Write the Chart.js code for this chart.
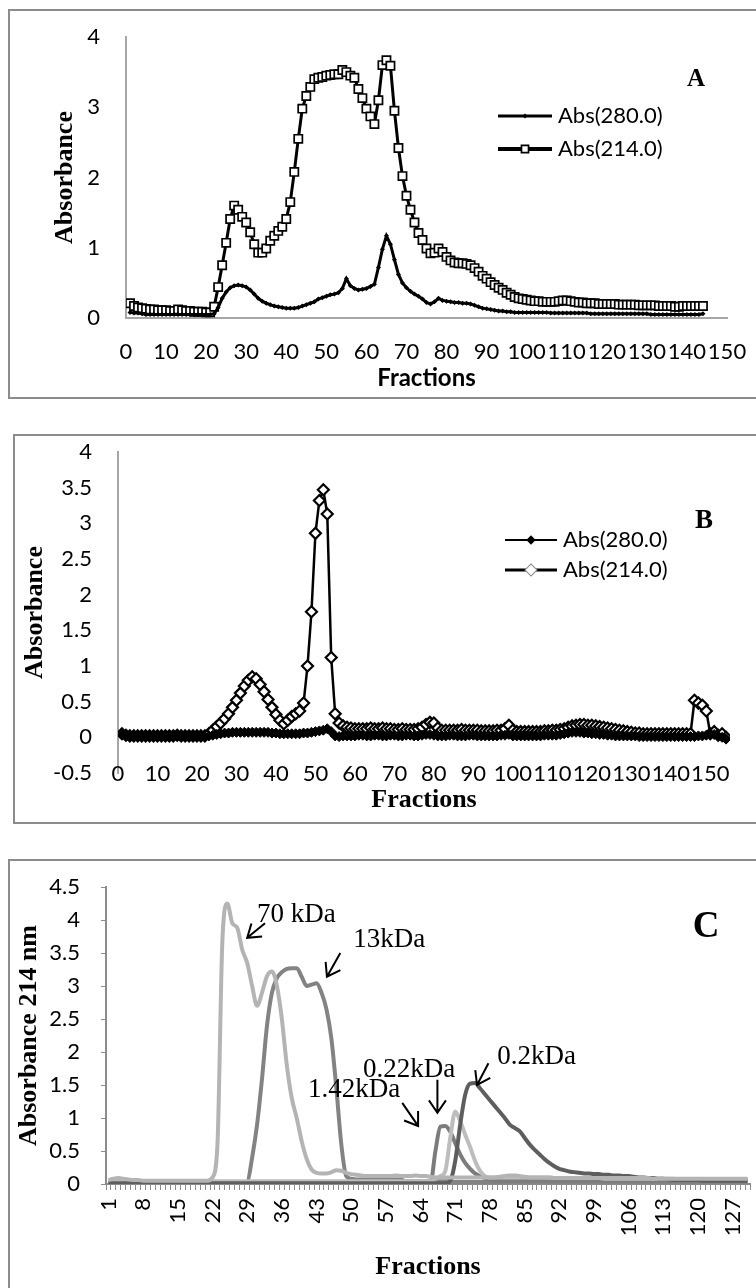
<!DOCTYPE html>
<html>
<head>
<meta charset="utf-8">
<script src="https://cdn.jsdelivr.net/npm/chart.js@4.4.1/dist/chart.umd.min.js"></script>
<style>
  html, body { margin: 0; padding: 0; background: #fff; overflow: hidden; }
  body { width: 756px; height: 1288px; position: relative; }
  .box { position: absolute; border: 2px solid #8c8c8c; box-sizing: border-box; }
  canvas { position: absolute; left: 0; }
</style>
</head>
<body>
<div class="box" style="left:8px; top:9px; width:800px; height:390px"></div>
<div class="box" style="left:13px; top:434px; width:800px; height:390px"></div>
<div class="box" style="left:8px; top:859px; width:800px; height:500px"></div>
<canvas id="chartA" width="756" height="400" style="top:0"></canvas>
<canvas id="chartB" width="756" height="410" style="top:415px"></canvas>
<canvas id="chartC" width="756" height="458" style="top:830px"></canvas>
<script>
// ---- Panel A (fractions 1..144) ----
const abs280A = [
  0.08, 0.07, 0.07, 0.06, 0.05, 0.05, 0.05, 0.05, 0.05, 0.05,
  0.05, 0.05, 0.05, 0.05, 0.05, 0.05, 0.05, 0.05, 0.05, 0.05,
  0.05, 0.06, 0.15, 0.28, 0.37, 0.43, 0.46, 0.47, 0.46, 0.44,
  0.4, 0.34, 0.28, 0.24, 0.21, 0.19, 0.17, 0.16, 0.15, 0.14,
  0.14, 0.14, 0.15, 0.17, 0.19, 0.21, 0.23, 0.27, 0.29, 0.31,
  0.33, 0.34, 0.36, 0.42, 0.56, 0.46, 0.42, 0.4, 0.41, 0.42,
  0.45, 0.48, 0.72, 0.98, 1.17, 1.05, 0.83, 0.62, 0.5, 0.43,
  0.38, 0.34, 0.31, 0.27, 0.22, 0.2, 0.23, 0.28, 0.25, 0.24,
  0.23, 0.22, 0.22, 0.21, 0.21, 0.2, 0.18, 0.16, 0.14, 0.13,
  0.12, 0.11, 0.1, 0.1, 0.09, 0.09, 0.08, 0.08, 0.08, 0.08,
  0.08, 0.08, 0.08, 0.08, 0.08, 0.07, 0.07, 0.07, 0.07, 0.07,
  0.07, 0.07, 0.07, 0.07, 0.07, 0.06, 0.06, 0.06, 0.06, 0.06,
  0.06, 0.06, 0.06, 0.06, 0.06, 0.06, 0.06, 0.06, 0.06, 0.06,
  0.05, 0.05, 0.05, 0.05, 0.05, 0.05, 0.05, 0.05, 0.05, 0.05,
  0.05, 0.05, 0.05, 0.06
];
const abs214A = [
  0.21, 0.17, 0.15, 0.14, 0.13, 0.12, 0.12, 0.11, 0.11, 0.11,
  0.1, 0.1, 0.12, 0.11, 0.1, 0.1, 0.09, 0.09, 0.09, 0.08,
  0.08, 0.16, 0.44, 0.75, 1.07, 1.41, 1.6, 1.54, 1.44, 1.36,
  1.22, 1.05, 0.93, 0.93, 0.99, 1.1, 1.17, 1.24, 1.3, 1.41,
  1.65, 2.08, 2.55, 2.98, 3.16, 3.29, 3.4, 3.42, 3.43, 3.45,
  3.46, 3.47, 3.47, 3.53, 3.5, 3.45, 3.42, 3.26, 3.13, 2.98,
  2.87, 2.76, 3.1, 3.6, 3.67, 3.59, 2.95, 2.42, 2.02, 1.74,
  1.54, 1.36, 1.21, 1.11, 0.99, 0.92, 0.93, 0.99, 0.94, 0.87,
  0.82, 0.79, 0.78, 0.78, 0.77, 0.75, 0.71, 0.66, 0.6, 0.56,
  0.51, 0.47, 0.43, 0.4, 0.36, 0.33, 0.3, 0.28, 0.27, 0.26,
  0.25, 0.24, 0.24, 0.23, 0.23, 0.23, 0.23, 0.24, 0.25, 0.25,
  0.24, 0.23, 0.22, 0.22, 0.21, 0.21, 0.21, 0.2, 0.2, 0.2,
  0.2, 0.2, 0.19, 0.19, 0.19, 0.19, 0.19, 0.18, 0.18, 0.18,
  0.18, 0.18, 0.17, 0.17, 0.17, 0.17, 0.16, 0.16, 0.17, 0.17,
  0.17, 0.17, 0.17, 0.17
];
const xTicksA = [0, 10, 20, 30, 40, 50, 60, 70, 80, 90, 100, 110, 120, 130, 140, 150];
const yTicksA = [0, 1, 2, 3, 4];

// ---- Panel B (fractions 1..154) ----
const abs280B = [
  0.04, 0.02, 0.01, 0.01, 0.01, 0.01, 0.01, 0.01, 0.01, 0.01,
  0.01, 0.01, 0.01, 0.01, 0.02, 0.01, 0.01, 0.01, 0.01, 0.01,
  0.01, 0.01, 0.02, 0.03, 0.04, 0.05, 0.06, 0.06, 0.07, 0.07,
  0.07, 0.07, 0.07, 0.07, 0.07, 0.07, 0.07, 0.07, 0.06, 0.06,
  0.05, 0.05, 0.05, 0.05, 0.05, 0.05, 0.06, 0.06, 0.07, 0.08,
  0.09, 0.1, 0.12, 0.08, 0.02, 0.01, 0.02, 0.02, 0.02, 0.02,
  0.03, 0.03, 0.02, 0.02, 0.03, 0.03, 0.02, 0.02, 0.03, 0.03,
  0.02, 0.02, 0.03, 0.03, 0.02, 0.02, 0.03, 0.04, 0.04, 0.03,
  0.02, 0.02, 0.02, 0.03, 0.03, 0.02, 0.02, 0.02, 0.03, 0.03,
  0.02, 0.02, 0.02, 0.02, 0.02, 0.02, 0.03, 0.03, 0.04, 0.02,
  0.02, 0.02, 0.02, 0.02, 0.02, 0.02, 0.02, 0.03, 0.03, 0.03,
  0.03, 0.04, 0.05, 0.06, 0.07, 0.07, 0.07, 0.06, 0.06, 0.05,
  0.05, 0.04, 0.04, 0.03, 0.03, 0.02, 0.02, 0.02, 0.02, 0.02,
  0.02, 0.01, 0.01, 0.01, 0.01, 0.01, 0.01, 0.01, 0.01, 0.01,
  0.01, 0.01, 0.01, 0.01, 0.01, 0.01, 0.02, 0.02, 0.03, 0.05,
  0.04, 0.02, 0.0, -0.02
];
const abs214B = [
  0.05, 0.03, 0.02, 0.02, 0.02, 0.02, 0.02, 0.02, 0.02, 0.02,
  0.02, 0.02, 0.02, 0.02, 0.03, 0.02, 0.02, 0.02, 0.02, 0.02,
  0.02, 0.02, 0.05, 0.1, 0.15, 0.2, 0.26, 0.33, 0.42, 0.52,
  0.62, 0.72, 0.8, 0.85, 0.82, 0.74, 0.64, 0.53, 0.42, 0.32,
  0.24, 0.19, 0.24, 0.29, 0.33, 0.37, 0.48, 1.0, 1.76, 2.86,
  3.32, 3.47, 3.13, 1.12, 0.33, 0.2, 0.16, 0.14, 0.13, 0.12,
  0.12, 0.12, 0.12, 0.13, 0.12, 0.12, 0.13, 0.12, 0.12, 0.11,
  0.11, 0.12, 0.11, 0.11, 0.11, 0.12, 0.14, 0.18, 0.21, 0.2,
  0.13, 0.1, 0.1, 0.1, 0.1, 0.1, 0.11, 0.1, 0.1, 0.1,
  0.1, 0.09, 0.09, 0.09, 0.09, 0.1, 0.1, 0.12, 0.17, 0.1,
  0.08, 0.08, 0.08, 0.08, 0.08, 0.08, 0.08, 0.09, 0.09, 0.1,
  0.1, 0.11, 0.12, 0.14, 0.16, 0.17, 0.18, 0.18, 0.17, 0.17,
  0.16, 0.15, 0.14, 0.13, 0.12, 0.11, 0.1, 0.09, 0.08, 0.07,
  0.06, 0.06, 0.05, 0.05, 0.05, 0.05, 0.05, 0.05, 0.05, 0.05,
  0.05, 0.05, 0.05, 0.05, 0.05, 0.52, 0.48, 0.45, 0.37, 0.05,
  0.08, 0.03, 0.05, 0.0
];
const xTicksB = [0, 10, 20, 30, 40, 50, 60, 70, 80, 90, 100, 110, 120, 130, 140, 150];
const yTicksB = [-0.5, 0, 0.5, 1, 1.5, 2, 2.5, 3, 3.5, 4];

// ---- Panel C (fractions 1..130) ----
const kda70 = [
  0.06, 0.08, 0.09, 0.08, 0.07, 0.06, 0.06, 0.05, 0.05, 0.05,
  0.05, 0.05, 0.05, 0.05, 0.05, 0.05, 0.05, 0.05, 0.05, 0.05,
  0.05, 0.1, 0.6, 3.7, 4.25, 3.95, 3.88, 3.55, 3.35, 3.0,
  2.7, 2.9, 3.15, 3.22, 3.0, 2.5, 1.8, 1.3, 1.0, 0.65,
  0.38, 0.22, 0.17, 0.16, 0.16, 0.18, 0.21, 0.2, 0.17, 0.15,
  0.14, 0.13, 0.12, 0.12, 0.12, 0.12, 0.12, 0.12, 0.13, 0.12,
  0.12, 0.12, 0.13, 0.12, 0.12, 0.11, 0.1, 0.1, 0.1, 0.1,
  0.1, 0.1, 0.1, 0.1, 0.1, 0.1, 0.1, 0.1, 0.1, 0.11,
  0.12, 0.13, 0.13, 0.12, 0.11, 0.1, 0.1, 0.1, 0.1, 0.1,
  0.09, 0.09, 0.09, 0.09, 0.09, 0.09, 0.09, 0.09, 0.09, 0.09,
  0.09, 0.09, 0.09, 0.09, 0.09, 0.09, 0.09, 0.09, 0.09, 0.09,
  0.08, 0.08, 0.08, 0.08, 0.08, 0.08, 0.08, 0.08, 0.08, 0.08,
  0.08, 0.08, 0.08, 0.08, 0.08, 0.08, 0.08, 0.08, 0.08, 0.08
];
const kda13 = [
  0.02, 0.02, 0.02, 0.02, 0.02, 0.02, 0.02, 0.02, 0.02, 0.02,
  0.02, 0.02, 0.02, 0.02, 0.02, 0.02, 0.02, 0.02, 0.02, 0.02,
  0.02, 0.02, 0.02, 0.02, 0.02, 0.02, 0.02, 0.02, 0.03, 0.4,
  0.9, 1.6, 2.4, 2.9, 3.12, 3.21, 3.26, 3.27, 3.27, 3.14,
  3.0, 3.02, 3.04, 2.9, 2.65, 2.2, 1.45, 0.6, 0.12, 0.08,
  0.07, 0.07, 0.07, 0.07, 0.07, 0.07, 0.07, 0.07, 0.07, 0.07,
  0.04, 0.04, 0.04, 0.04, 0.04, 0.04, 0.04, 0.04, 0.04, 0.04,
  0.03, 0.03, 0.03, 0.03, 0.03, 0.03, 0.03, 0.03, 0.03, 0.03,
  0.03, 0.03, 0.03, 0.03, 0.03, 0.03, 0.03, 0.03, 0.03, 0.03,
  0.03, 0.03, 0.03, 0.03, 0.03, 0.03, 0.03, 0.03, 0.03, 0.03,
  0.03, 0.03, 0.03, 0.03, 0.03, 0.03, 0.03, 0.03, 0.03, 0.03,
  0.03, 0.03, 0.03, 0.03, 0.03, 0.03, 0.03, 0.03, 0.03, 0.03,
  0.03, 0.03, 0.03, 0.03, 0.03, 0.03, 0.03, 0.03, 0.03, 0.03
];
const kda142 = [
  0.04, 0.04, 0.04, 0.04, 0.04, 0.04, 0.04, 0.04, 0.04, 0.04,
  0.04, 0.04, 0.04, 0.04, 0.04, 0.04, 0.04, 0.04, 0.04, 0.04,
  0.04, 0.04, 0.04, 0.04, 0.04, 0.04, 0.04, 0.04, 0.04, 0.04,
  0.04, 0.04, 0.04, 0.04, 0.04, 0.04, 0.04, 0.04, 0.04, 0.04,
  0.04, 0.04, 0.04, 0.04, 0.04, 0.04, 0.04, 0.04, 0.04, 0.04,
  0.04, 0.04, 0.04, 0.04, 0.04, 0.04, 0.04, 0.04, 0.04, 0.04,
  0.04, 0.04, 0.04, 0.04, 0.04, 0.04, 0.08, 0.12, 0.2, 0.7,
  1.1, 0.95, 0.75, 0.56, 0.35, 0.2, 0.12, 0.1, 0.1, 0.1,
  0.1, 0.1, 0.1, 0.1, 0.1, 0.1, 0.1, 0.1, 0.1, 0.1,
  0.09, 0.09, 0.09, 0.09, 0.09, 0.09, 0.09, 0.09, 0.09, 0.09,
  0.08, 0.08, 0.08, 0.08, 0.08, 0.08, 0.08, 0.08, 0.08, 0.08,
  0.08, 0.08, 0.08, 0.08, 0.08, 0.07, 0.07, 0.07, 0.07, 0.07,
  0.07, 0.07, 0.07, 0.07, 0.07, 0.07, 0.07, 0.07, 0.07, 0.07
];
const kda022 = [
  0.02, 0.02, 0.02, 0.02, 0.02, 0.02, 0.02, 0.02, 0.02, 0.02,
  0.02, 0.02, 0.02, 0.02, 0.02, 0.02, 0.02, 0.02, 0.02, 0.02,
  0.02, 0.02, 0.02, 0.02, 0.02, 0.02, 0.02, 0.02, 0.02, 0.02,
  0.02, 0.02, 0.02, 0.02, 0.02, 0.02, 0.02, 0.02, 0.02, 0.02,
  0.02, 0.02, 0.02, 0.02, 0.02, 0.02, 0.02, 0.02, 0.02, 0.02,
  0.02, 0.02, 0.02, 0.02, 0.02, 0.02, 0.02, 0.02, 0.02, 0.02,
  0.02, 0.02, 0.02, 0.02, 0.02, 0.02, 0.5, 0.87, 0.88, 0.79,
  0.62, 0.45, 0.32, 0.23, 0.16, 0.12, 0.09, 0.07, 0.05, 0.05,
  0.05, 0.05, 0.05, 0.05, 0.05, 0.05, 0.05, 0.05, 0.05, 0.05,
  0.05, 0.05, 0.05, 0.05, 0.05, 0.05, 0.05, 0.05, 0.05, 0.05,
  0.05, 0.05, 0.05, 0.05, 0.05, 0.05, 0.05, 0.05, 0.05, 0.05,
  0.05, 0.05, 0.05, 0.05, 0.05, 0.05, 0.05, 0.05, 0.05, 0.05,
  0.05, 0.05, 0.05, 0.05, 0.05, 0.05, 0.05, 0.05, 0.05, 0.05
];
const kda02 = [
  0.01, 0.01, 0.01, 0.01, 0.01, 0.01, 0.01, 0.01, 0.01, 0.01,
  0.01, 0.01, 0.01, 0.01, 0.01, 0.01, 0.01, 0.01, 0.01, 0.01,
  0.01, 0.01, 0.01, 0.01, 0.01, 0.01, 0.01, 0.01, 0.01, 0.01,
  0.01, 0.01, 0.01, 0.01, 0.01, 0.01, 0.01, 0.01, 0.01, 0.01,
  0.01, 0.01, 0.01, 0.01, 0.01, 0.01, 0.01, 0.01, 0.01, 0.01,
  0.01, 0.01, 0.01, 0.01, 0.01, 0.01, 0.01, 0.01, 0.01, 0.01,
  0.01, 0.01, 0.01, 0.01, 0.01, 0.01, 0.01, 0.01, 0.01, 0.05,
  0.35, 0.9, 1.35, 1.52, 1.53, 1.45, 1.36, 1.27, 1.18, 1.09,
  1.0, 0.9, 0.85, 0.8, 0.7, 0.6, 0.52, 0.45, 0.38, 0.32,
  0.27, 0.23, 0.21, 0.19, 0.18, 0.17, 0.16, 0.16, 0.15, 0.15,
  0.14, 0.14, 0.13, 0.13, 0.12, 0.12, 0.11, 0.1, 0.1, 0.09,
  0.09, 0.08, 0.08, 0.07, 0.06, 0.06, 0.06, 0.06, 0.06, 0.06,
  0.05, 0.05, 0.05, 0.05, 0.05, 0.05, 0.05, 0.05, 0.05, 0.05
];
const fractionsC = kda70.map((_, i) => i + 1);
const shownC = [1, 8, 15, 22, 29, 36, 43, 50, 57, 64, 71, 78, 85, 92, 99, 106, 113, 120, 127];
const yTicksC = [0, 0.5, 1, 1.5, 2, 2.5, 3, 3.5, 4, 4.5];

Chart.defaults.font.family = 'Lato';
Chart.defaults.font.size = 22;
Chart.defaults.color = '#000';

const serifBold = (size) => ({ family: 'Liberation Serif', weight: 'bold', size: size });

// fixed axis box so the plot area lands where the reference has it
function fixBox(size) {
  return function (s) {
    if (s.isHorizontal()) s.height = size; else s.width = size;
    s.paddingLeft = 0; s.paddingRight = 0; s.paddingTop = 0; s.paddingBottom = 0;
  };
}
const useTicks = (list) => (axis) => { axis.ticks = list.map(v => ({ value: v })); };
const xy = (arr) => arr.map((v, i) => ({ x: i + 1, y: v }));

function drawMarker(ctx, style, x, y, r, fill, stroke, lw) {
  ctx.save();
  ctx.translate(x, y);
  if (style === 'rectRot') ctx.rotate(Math.PI / 4);
  const s = r * Math.SQRT1_2;
  ctx.beginPath();
  ctx.rect(-s, -s, 2 * s, 2 * s);
  ctx.fillStyle = fill;
  ctx.fill();
  if (lw) { ctx.lineWidth = lw; ctx.strokeStyle = stroke; ctx.stroke(); }
  ctx.restore();
}

function arrow(ctx, x0, y0, x1, y1) {
  const a = Math.atan2(y1 - y0, x1 - x0), h = 15, w = 0.6;
  ctx.beginPath();
  ctx.moveTo(x0, y0); ctx.lineTo(x1, y1);
  ctx.moveTo(x1 - h * Math.cos(a - w), y1 - h * Math.sin(a - w));
  ctx.lineTo(x1, y1);
  ctx.lineTo(x1 - h * Math.cos(a + w), y1 - h * Math.sin(a + w));
  ctx.stroke();
}

const panelDecor = {
  id: 'panelDecor',
  afterDraw(chart, args, o) {
    const ctx = chart.ctx;
    ctx.save();
    ctx.fillStyle = '#000';
    if (o.letter) {
      ctx.font = 'bold ' + o.letter.size + 'px "Liberation Serif"';
      ctx.textAlign = 'center';
      ctx.textBaseline = 'middle';
      ctx.fillText(o.letter.text, o.letter.x, o.letter.y);
    }
    // x tick labels that sit level with the lowest y tick (panel B)
    if (o.xLabels) {
      const xs = chart.scales.x;
      ctx.font = '22px Lato';
      ctx.textAlign = 'center';
      ctx.textBaseline = 'middle';
      o.xLabels.values.forEach(v => {
        ctx.fillText(String(v), xs.getPixelForValue(v), chart.chartArea.bottom + o.xLabels.dy);
      });
    }
    (o.legend || []).forEach(item => {
      const ds = chart.data.datasets[item.dataset];
      ctx.strokeStyle = ds.borderColor;
      ctx.lineWidth = item.lineWidth || ds.borderWidth;
      ctx.beginPath();
      ctx.moveTo(item.x0, item.y);
      ctx.lineTo(item.x1, item.y);
      ctx.stroke();
      drawMarker(ctx, ds.pointStyle, (item.x0 + item.x1) / 2, item.y, item.r || ds.pointRadius,
        ds.pointBackgroundColor, item.markerBorder || ds.pointBorderColor, item.markerWidth || ds.pointBorderWidth);
      ctx.font = '22px Lato';
      ctx.fillStyle = '#000';
      ctx.textAlign = 'left';
      ctx.textBaseline = 'middle';
      ctx.fillText(ds.label, item.x1 + 6, item.y);
    });
    if (o.notes) {
      const xs = chart.scales.x, ys = chart.scales.y;
      const px = c => xs.getPixelForValue(c - 1);
      ctx.font = '27px "Liberation Serif"';
      ctx.textAlign = 'left';
      ctx.textBaseline = 'alphabetic';
      ctx.strokeStyle = '#000';
      ctx.lineWidth = 2;
      o.notes.forEach(n => {
        ctx.fillText(n.text, px(n.at[0]), ys.getPixelForValue(n.at[1]));
        arrow(ctx, px(n.tail[0]), ys.getPixelForValue(n.tail[1]), px(n.tip[0]), ys.getPixelForValue(n.tip[1]));
      });
    }
    ctx.restore();
  }
};

const base = {
  responsive: false,
  animation: false,
  devicePixelRatio: 1,
  events: [],
};

// ---------- A ----------
new Chart(document.getElementById('chartA'), {
  type: 'line',
  data: {
    datasets: [
      { label: 'Abs(280.0)', data: xy(abs280A), borderColor: '#000', borderWidth: 3,
        pointStyle: 'rectRot', pointRadius: 2.5, pointBackgroundColor: '#000',
        pointBorderColor: '#000', pointBorderWidth: 0, tension: 0 },
      { label: 'Abs(214.0)', data: xy(abs214A), borderColor: '#000', borderWidth: 3,
        pointStyle: 'rect', pointRadius: 5.8, pointBackgroundColor: '#fff',
        pointBorderColor: '#000', pointBorderWidth: 1.7, tension: 0 }
    ]
  },
  options: Object.assign({}, base, {
    layout: { padding: { top: 37, right: 29, bottom: 7, left: 0 } },
    scales: {
      x: {
        type: 'linear', min: 0, max: 150,
        afterBuildTicks: useTicks(xTicksA),
        afterFit: fixBox(75),
        ticks: { autoSkip: false, maxRotation: 0, padding: 21, font: { size: 22 } },
        grid: { display: false, drawTicks: false },
        border: { display: true, color: '#a6a6a6', width: 2 },
        title: { display: true, text: 'Fractions', font: { family: 'Lato', weight: 'bold', size: 24 }, padding: 0 }
      },
      y: {
        min: 0, max: 4,
        afterBuildTicks: useTicks(yTicksA),
        afterFit: fixBox(126),
        ticks: { padding: 26, font: { size: 22 }, callback: v => String(v) },
        grid: { display: false, drawTicks: false },
        border: { display: true, color: '#a6a6a6', width: 2 },
        title: { display: true, text: 'Absorbance', font: serifBold(26), padding: { top: 50, bottom: 0 } }
      }
    },
    plugins: {
      legend: { display: false },
      tooltip: { enabled: false },
      panelDecor: {
        letter: { text: 'A', x: 696, y: 80, size: 25 },
        legend: [
          { dataset: 0, x0: 498, x1: 552, y: 116 },
          { dataset: 1, x0: 498, x1: 552, y: 149, r: 5, lineWidth: 4 }
        ]
      }
    }
  }),
  plugins: [panelDecor]
});

// ---------- B ----------
new Chart(document.getElementById('chartB'), {
  type: 'line',
  data: {
    datasets: [
      { label: 'Abs(280.0)', data: xy(abs280B), borderColor: '#000', borderWidth: 2,
        pointStyle: 'rectRot', pointRadius: 5, pointBackgroundColor: '#000',
        pointBorderColor: '#000', pointBorderWidth: 1, tension: 0 },
      { label: 'Abs(214.0)', data: xy(abs214B), borderColor: '#000', borderWidth: 2.5,
        pointStyle: 'rectRot', pointRadius: 5.5, pointBackgroundColor: '#fff',
        pointBorderColor: '#000', pointBorderWidth: 2.2, tension: 0 }
    ]
  },
  options: Object.assign({}, base, {
    layout: { padding: { top: 37, right: 26, bottom: 9, left: 0 } },
    scales: {
      x: {
        type: 'linear', min: 0, max: 155,
        afterBuildTicks: useTicks(xTicksB),
        afterFit: fixBox(43),
        ticks: { display: false },
        grid: { display: false, drawTicks: false },
        border: { display: false },
        title: { display: true, text: 'Fractions', font: serifBold(26), padding: 0 }
      },
      y: {
        min: -0.5, max: 4,
        afterBuildTicks: useTicks(yTicksB),
        afterFit: fixBox(118),
        ticks: { padding: 26, font: { size: 22 }, callback: v => String(v) },
        grid: { display: false, drawTicks: false },
        border: { display: true, color: '#a6a6a6', width: 2 },
        title: { display: true, text: 'Absorbance', font: serifBold(26), padding: { top: 20, bottom: 0 } }
      }
    },
    plugins: {
      legend: { display: false },
      tooltip: { enabled: false },
      panelDecor: {
        letter: { text: 'B', x: 704, y: 106, size: 27 },
        xLabels: { values: xTicksB, dy: 1 },
        legend: [
          { dataset: 0, x0: 505, x1: 557, y: 125, lineWidth: 2, r: 4 },
          { dataset: 1, x0: 505, x1: 557, y: 155, lineWidth: 3, r: 6, markerBorder: '#888', markerWidth: 1 }
        ]
      }
    }
  }),
  plugins: [panelDecor]
});

// ---------- C ----------
const lineC = (label, data, color, order) => ({
  label: label, data: data, borderColor: color, borderWidth: 4, pointRadius: 0,
  tension: 0.3, cubicInterpolationMode: 'monotone', order: order
});

new Chart(document.getElementById('chartC'), {
  type: 'line',
  data: {
    labels: fractionsC,
    datasets: [
      lineC('70 kDa', kda70, '#b4b4b4', 0),
      lineC('13kDa', kda13, '#838383', 4),
      lineC('1.42kDa', kda142, '#bdbdbd', 2),
      lineC('0.22kDa', kda022, '#7c7c7c', 3),
      lineC('0.2kDa', kda02, '#5e5e5e', 1)
    ]
  },
  options: Object.assign({}, base, {
    layout: { padding: { top: 57, right: 6, bottom: 5, left: 0 } },
    scales: {
      x: {
        type: 'category', offset: true,
        afterFit: fixBox(99),
        ticks: {
          autoSkip: false, minRotation: 90, maxRotation: 90, padding: 8, font: { size: 22 },
          callback: (v, i) => shownC.includes(fractionsC[i]) ? String(fractionsC[i]) : ''
        },
        grid: { display: true, offset: true, drawOnChartArea: false, drawTicks: true, tickLength: 6, color: '#8c8c8c', lineWidth: 1 },
        border: { display: true, color: '#8c8c8c', width: 2 },
        title: { display: true, text: 'Fractions', font: serifBold(26), padding: 0 }
      },
      y: {
        min: 0, max: 4.5,
        afterBuildTicks: useTicks(yTicksC),
        afterFit: fixBox(106),
        ticks: { padding: 21, font: { size: 22 }, callback: v => String(v) },
        grid: { display: true, drawOnChartArea: false, drawTicks: true, tickLength: 5, color: '#8c8c8c' },
        border: { display: true, color: '#8c8c8c', width: 2 },
        title: { display: true, text: 'Absorbance 214 nm', font: serifBold(26), padding: { top: 14, bottom: 0 } }
      }
    },
    plugins: {
      legend: { display: false },
      tooltip: { enabled: false },
      panelDecor: {
        letter: { text: 'C', x: 706, y: 97, size: 37 },
        notes: [
          { text: '70 kDa', at: [31.0, 3.97], tail: [32.6, 3.95], tip: [29.0, 3.73] },
          { text: '13kDa', at: [50.4, 3.59], tail: [47.8, 3.5], tip: [45.1, 3.14] },
          { text: '1.42kDa', at: [41.3, 1.32], tail: [60.3, 1.23], tip: [63.5, 0.88] },
          { text: '0.22kDa', at: [52.4, 1.62], tail: [67.4, 1.58], tip: [67.4, 1.08] },
          { text: '0.2kDa', at: [79.5, 1.82], tail: [77.7, 1.83], tip: [75.4, 1.5] }
        ]
      }
    }
  }),
  plugins: [panelDecor]
});
</script>
</body>
</html>
